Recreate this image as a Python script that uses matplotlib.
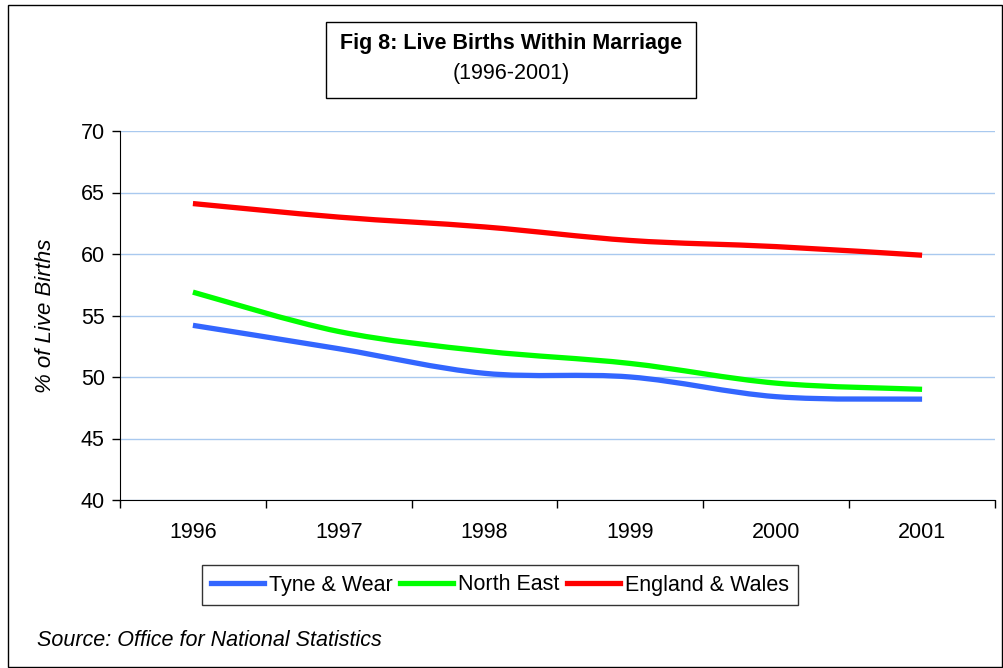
import numpy as np
import matplotlib.pyplot as plt
from matplotlib.path import Path
from matplotlib.patches import PathPatch, Rectangle
from matplotlib.lines import Line2D

plt.rcParams['font.family'] = ['Liberation Sans', 'DejaVu Sans']

# 数据
years = ['1996', '1997', '1998', '1999', '2000', '2001']
tyne_wear = [54.2, 52.3, 50.3, 50.0, 48.4, 48.2]
north_east = [56.9, 53.7, 52.1, 51.1, 49.5, 49.0]
england_wales = [64.1, 63.0, 62.2, 61.1, 60.6, 59.9]

names = ['Tyne & Wear', 'North East', 'England & Wales']
colors = ['#3366ff', '#00ff00', '#ff0000']


# 平滑曲线（类似Excel的平滑线）
def smooth_path(x, y):
    x = np.asarray(x, float)
    y = np.asarray(y, float)
    verts = [(x[0], y[0])]
    codes = [Path.MOVETO]
    n = len(x)
    for i in range(n - 1):
        x0, y0 = (x[i - 1], y[i - 1]) if i > 0 else (x[i], y[i])
        x3, y3 = (x[i + 2], y[i + 2]) if i + 2 < n else (x[i + 1], y[i + 1])
        c1 = (x[i] + (x[i + 1] - x0) / 6, y[i] + (y[i + 1] - y0) / 6)
        c2 = (x[i + 1] - (x3 - x[i]) / 6, y[i + 1] - (y3 - y[i]) / 6)
        verts += [c1, c2, (x[i + 1], y[i + 1])]
        codes += [Path.CURVE4] * 3
    return Path(verts, codes)


fig = plt.figure(figsize=(10.04, 6.68), dpi=100)
ax = fig.add_axes([120 / 1004, 1 - 500 / 668, 875 / 1004, 369 / 668])

xs = np.arange(len(years))
for vals, c in zip([tyne_wear, north_east, england_wales], colors):
    ax.add_patch(PathPatch(smooth_path(xs, vals), facecolor='none', edgecolor=c,
                           lw=3.8, capstyle='butt', zorder=3))

ax.set_xlim(-0.5, len(years) - 0.5)
ax.set_ylim(40, 70)
ax.set_yticks(range(40, 71, 5))
ax.set_xticks(np.arange(-0.5, len(years), 1.0))
ax.set_xticklabels([])
ax.set_xticks(xs, minor=True)
ax.set_xticklabels(years, minor=True)
ax.tick_params(axis='x', which='minor', length=0, pad=16, labelsize=15.5)
ax.tick_params(axis='x', which='major', direction='out', length=6, width=1)
ax.tick_params(axis='y', direction='out', length=6, width=1, labelsize=15.5, pad=5)
ax.grid(axis='y', color='#a9c9ef', lw=1)
ax.set_axisbelow(True)
for s in ['top', 'right']:
    ax.spines[s].set_visible(False)
ax.spines['left'].set_color('black')
ax.spines['bottom'].set_color('black')
ax.set_ylabel('% of Live Births', fontsize=16, style='italic', labelpad=18)

# 标题框
fig.patches.append(Rectangle((326 / 1004, 1 - 98 / 668), 370 / 1004, 76 / 668,
                             transform=fig.transFigure, facecolor='white',
                             edgecolor='black', lw=1))
fig.text(511 / 1004, 1 - 43 / 668, 'Fig 8: Live Births Within Marriage',
         ha='center', va='center', fontsize=15.5, fontweight='bold')
fig.text(511 / 1004, 1 - 73 / 668, '(1996-2001)', ha='center', va='center', fontsize=15.5)

# 图例
handles = [Line2D([], [], color=c, lw=3.8) for c in colors]
leg = fig.legend(handles, names, loc='center', bbox_to_anchor=(500 / 1004, 1 - 585 / 668),
                 ncol=3, frameon=True, fancybox=False, edgecolor='black', fontsize=15.5,
                 handlelength=2.45, handletextpad=0.22, columnspacing=0.37,
                 borderpad=0.45, borderaxespad=0)
leg.get_frame().set_linewidth(1)

fig.text(37 / 1004, 1 - 640 / 668, 'Source: Office for National Statistics',
         ha='left', va='center', fontsize=15.5, style='italic')

# 外框
fig.patches.append(Rectangle((8 / 1004, 0.002), 0.99, 1 - 5 / 668 - 0.002,
                             transform=fig.transFigure, facecolor='none',
                             edgecolor='black', lw=1))

plt.savefig('out.png')
